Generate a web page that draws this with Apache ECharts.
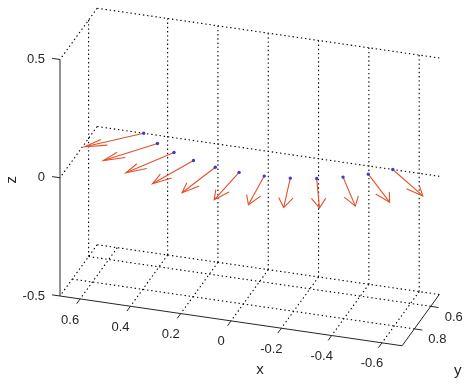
<!DOCTYPE html>
<html><head><meta charset="utf-8">
<script src="https://cdn.jsdelivr.net/npm/echarts@6/dist/echarts.min.js"></script>
<style>html,body{margin:0;padding:0;background:#fff}#c{width:474px;height:386px}</style>
</head><body><div id="c"></div>
<script>
// ---- axis limits and ticks ----
const xLim = [-0.68, 0.68];
const yLim = [0.495, 0.95];
const zLim = [-0.5, 0.5];
const xTicks = [0.6, 0.4, 0.2, 0, -0.2, -0.4, -0.6];
const yTicks = [0.6, 0.8];
const zTicks = [-0.5, 0, 0.5];
const xTickLabels = ['0.6', '0.4', '0.2', '0', '-0.2', '-0.4', '-0.6'];
const yTickLabels = ['0.6', '0.8'];
const zTickLabels = ['-0.5', '0', '0.5'];
// grid lines visible in the picture
const backWallX = [0.4, 0.2, 0, -0.2, -0.4, -0.6];
const leftWallY = [0.6];

// ---- quiver data: base points and vectors ----
const baseX = [0.495, 0.419, 0.336, 0.245, 0.149, 0.050, -0.050, -0.149, -0.245, -0.336, -0.419, -0.495];
const baseY = [0.495, 0.561, 0.614, 0.656, 0.684, 0.698, 0.698, 0.684, 0.656, 0.614, 0.561, 0.495];
const baseZ = [0, 0, 0, 0, 0, 0, 0, 0, 0, 0, 0, 0];
const vecU  = [0.177, 0.150, 0.120, 0.087, 0.053, 0.018, -0.018, -0.053, -0.087, -0.120, -0.150, -0.177];
const vecV  = [0.177, 0.200, 0.219, 0.234, 0.244, 0.249, 0.249, 0.244, 0.234, 0.219, 0.200, 0.177];
const vecW  = [0, 0, 0, 0, 0, 0, 0, 0, 0, 0, 0, 0];

// ---- view (orthographic) ----
const AZ = 18.0 * Math.PI / 180, EL = 26.6 * Math.PI / 180;
function proj(x, y, z) {
  return [-Math.cos(AZ) * x - Math.sin(AZ) * y,
          Math.cos(EL) * z + Math.sin(EL) * Math.sin(AZ) * x - Math.sin(EL) * Math.cos(AZ) * y];
}
const S = 264.5, W = 474, H = 386, CX = 60, CY = 296;
const corner = proj(xLim[1], yLim[1], zLim[0]);

const [x0, x1] = xLim, [y0, y1] = yLim, [z0, z1] = zLim;
const gridSegs = [];
zTicks.forEach(z => gridSegs.push([x1, y0, z, x1, y1, z]));
leftWallY.forEach(y => gridSegs.push([x1, y, z0, x1, y, z1]));
zTicks.forEach(z => gridSegs.push([x1, y0, z, x0, y0, z]));
backWallX.forEach(x => gridSegs.push([x, y0, z0, x, y0, z1]));
xTicks.forEach(x => gridSegs.push([x, y0, z0, x, y1, z0]));
yTicks.forEach(y => gridSegs.push([x1, y, z0, x0, y, z0]));

const axisSegs = [
  [x1, y1, z0, x1, y1, z1],
  [x1, y1, z0, x0, y1, z0],
  [x0, y0, z0, x0, y1, z0]
];

const AX = '#262626';
const FONT = '"Liberation Sans", Arial, sans-serif';

function P(api, x, y, z) { return api.coord(proj(x, y, z)); }

const tickItems = [];
xTicks.forEach((x, i) => tickItems.push([x, y1, z0, 0, i]));
yTicks.forEach((y, i) => tickItems.push([x0, y, z0, 1, i]));
zTicks.forEach((z, i) => tickItems.push([x1, y1, z, 2, i]));

const exn = (() => { const a = [-Math.cos(AZ), -Math.sin(AZ) * Math.sin(EL)]; const l = Math.hypot(a[0], a[1]); return [a[0] / l, a[1] / l]; })();
const eyn = (() => { const a = [-Math.sin(AZ), Math.cos(AZ) * Math.sin(EL)]; const l = Math.hypot(a[0], a[1]); return [a[0] / l, a[1] / l]; })();

const quiver = baseX.map((x, i) => [x, baseY[i], baseZ[i], vecU[i], vecV[i], vecW[i]]);
const titles = [
  [0, y1, z0, 0], [x0, (y0 + y1) / 2, z0, 1], [x1, y1, 0, 2]
];

const option = {
  animation: false,
  grid: { left: 0, right: 0, top: 0, bottom: 0 },
  xAxis: { type: 'value', min: corner[0] - CX / S, max: corner[0] + (W - CX) / S, show: false },
  yAxis: { type: 'value', min: corner[1] - (H - CY) / S, max: corner[1] + CY / S, show: false },
  series: [
    { type: 'custom', clip: false, silent: true, data: gridSegs, z: 1,
      renderItem: (p, api) => {
        const a = P(api, api.value(0), api.value(1), api.value(2));
        const b = P(api, api.value(3), api.value(4), api.value(5));
        return { type: 'line', shape: { x1: a[0], y1: a[1], x2: b[0], y2: b[1] },
          style: { stroke: '#000000', lineWidth: 1.1, lineDash: [1.4, 2.8] } };
      } },
    { type: 'custom', clip: false, silent: true, data: axisSegs, z: 2,
      renderItem: (p, api) => {
        const a = P(api, api.value(0), api.value(1), api.value(2));
        const b = P(api, api.value(3), api.value(4), api.value(5));
        return { type: 'line', shape: { x1: a[0], y1: a[1], x2: b[0], y2: b[1] },
          style: { stroke: AX, lineWidth: 1 } };
      } },
    { type: 'custom', clip: false, silent: true, data: tickItems, z: 2,
      renderItem: (p, api) => {
        const a = P(api, api.value(0), api.value(1), api.value(2));
        const kind = api.value(3), idx = api.value(4);
        let d, len, txt, lx, ly, align;
        if (kind === 0) { d = eyn; len = 6; txt = xTickLabels[idx]; lx = a[0] - 10; ly = a[1] + 21; align = 'center'; }
        else if (kind === 1) { d = [-exn[0], -exn[1]]; len = 8; txt = yTickLabels[idx]; lx = a[0] + 23; ly = a[1] + 11; align = 'center'; }
        else { d = exn; len = 8; txt = zTickLabels[idx]; lx = a[0] - 15; ly = a[1]; align = 'right'; }
        return { type: 'group', children: [
          { type: 'line', shape: { x1: a[0], y1: a[1], x2: a[0] + d[0] * len, y2: a[1] + d[1] * len },
            style: { stroke: AX, lineWidth: 1 } },
          { type: 'text', x: lx, y: ly,
            style: { text: txt, fill: AX, fontSize: 13, fontFamily: FONT, align: align, verticalAlign: 'middle' } }
        ] };
      } },
    { type: 'custom', clip: false, silent: true, data: titles, z: 2,
      renderItem: (p, api) => {
        const a = P(api, api.value(0), api.value(1), api.value(2));
        const k = api.value(3);
        const names = ['x', 'y', 'z'];
        const off = [[29, 49], [37, 51], [-48, 2]];
        return { type: 'text', x: a[0] + off[k][0], y: a[1] + off[k][1], rotation: k === 2 ? Math.PI / 2 : 0,
          style: { text: names[k], fill: AX, fontSize: 15, fontFamily: FONT, align: 'center', verticalAlign: 'middle' } };
      } },
    { type: 'custom', clip: false, silent: true, data: quiver, z: 3,
      renderItem: (p, api) => {
        const x = api.value(0), y = api.value(1), z = api.value(2);
        const u = api.value(3), v = api.value(4), w = api.value(5);
        const al = 0.33, be = 0.33;
        const b = P(api, x, y, z);
        const t = P(api, x + u, y + v, z + w);
        const h1 = P(api, x + u - al * (u + be * v), y + v - al * (v - be * u), z + w - al * w);
        const h2 = P(api, x + u - al * (u - be * v), y + v - al * (v + be * u), z + w - al * w);
        const st = { stroke: '#E4502A', lineWidth: 1.1, fill: null };
        return { type: 'group', children: [
          { type: 'line', shape: { x1: b[0], y1: b[1], x2: t[0], y2: t[1] }, style: st },
          { type: 'polyline', shape: { points: [h1, t, h2] }, style: st },
          { type: 'circle', shape: { cx: b[0], cy: b[1], r: 1.7 }, style: { fill: '#3b3bcc' } }
        ] };
      } }
  ]
};
const chart = echarts.init(document.getElementById('c'));
chart.setOption(option);
</script>
</body></html>
